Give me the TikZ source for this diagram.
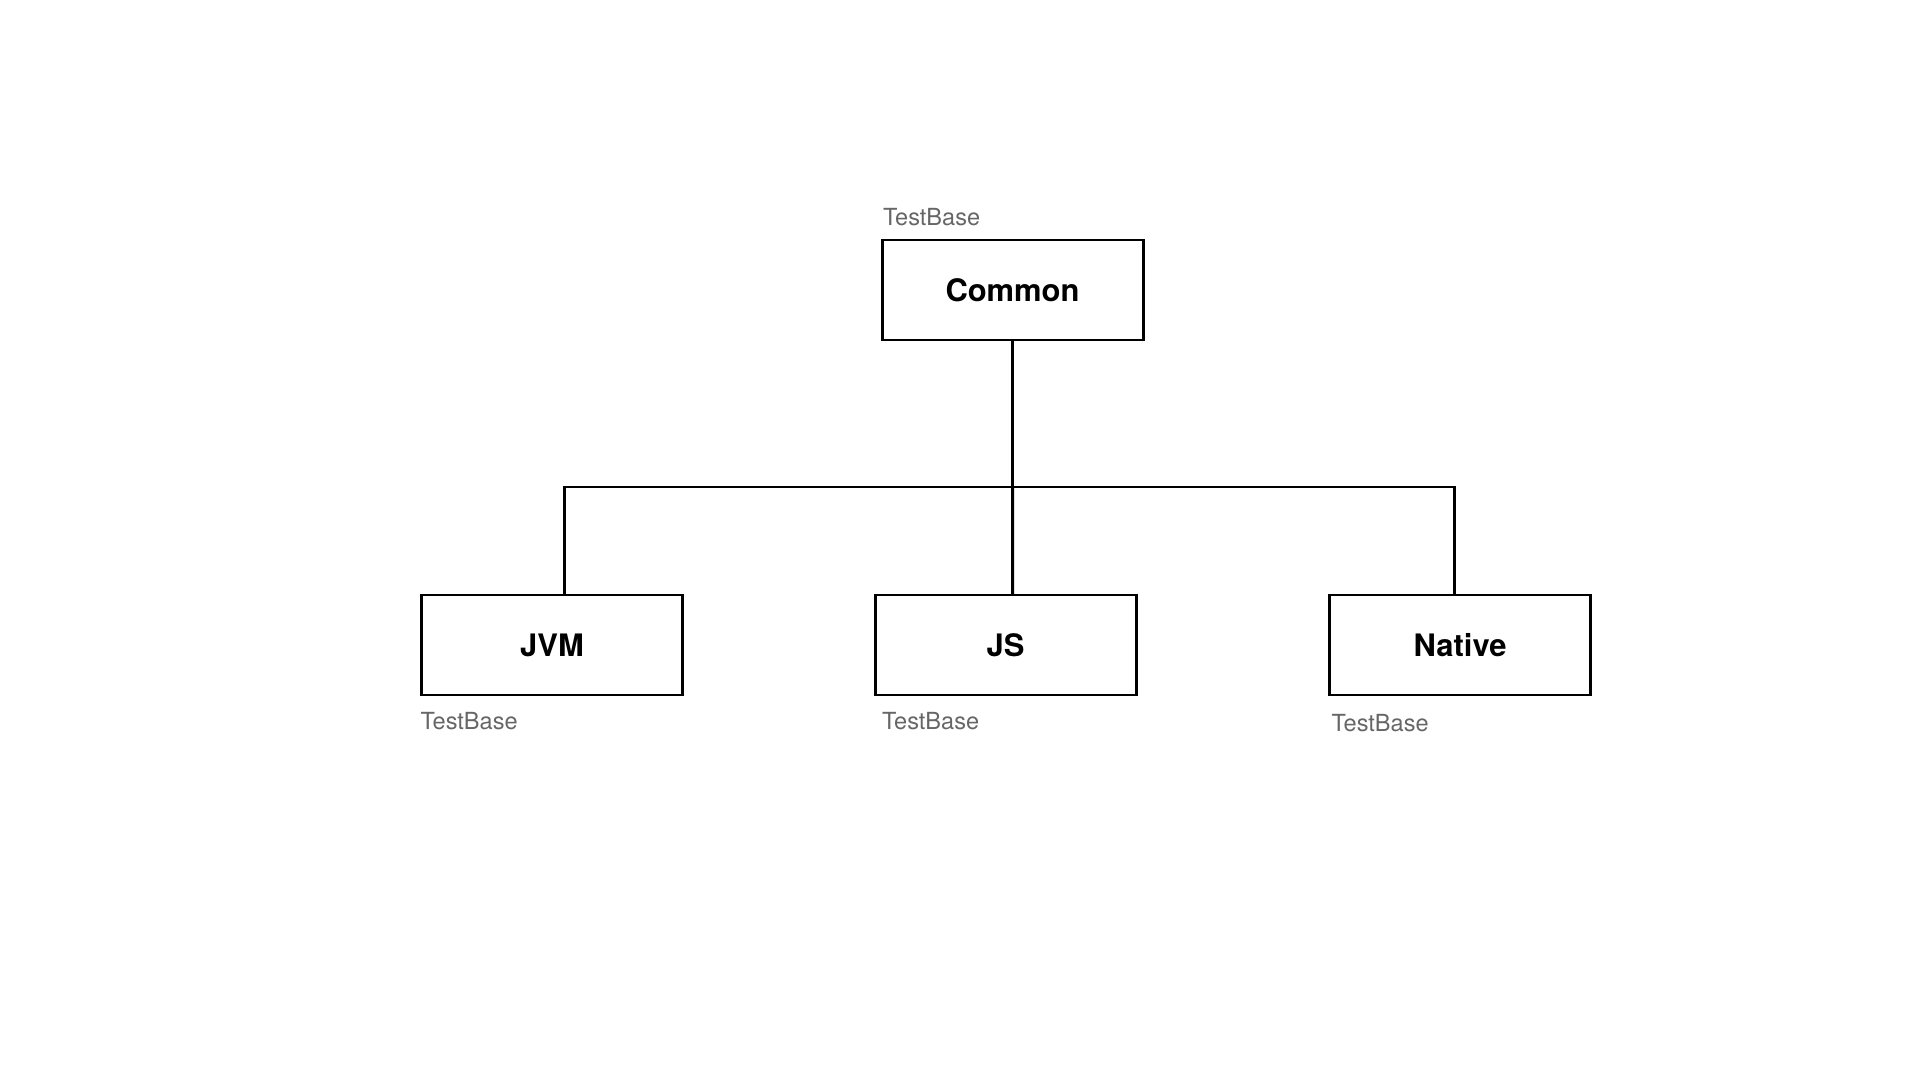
\documentclass[tikz,border=0pt]{standalone}
\usepackage{fontspec}
\setmainfont{TeX Gyre Heros}
\usepackage{tikz}
\usetikzlibrary{positioning}

\begin{document}
\begin{tikzpicture}[
    every node/.style={inner sep=0pt, outer sep=0pt},
    module/.style={draw, line width=0.85pt, minimum width=2.61cm, minimum height=1cm,
      font=\fontsize{8.8pt}{10pt}\selectfont\bfseries},
    base/.style={text=black!60, font=\fontsize{6.7pt}{8pt}\selectfont},
    link/.style={line width=0.85pt}]
      \useasboundingbox (0,0) rectangle (19.2,-10.8);
      \node [module] (common) at (10.125,-2.9)  {Common};
      \node [module] (jvm)    at ( 5.52, -6.45) {JVM};
      \node [module] (js)     at (10.055,-6.45) {JS};
      \node [module] (native) at (14.60, -6.45) {Native};
      \node [base, anchor=base west] (commonbase) at ([shift={(0.01,0.14)}]common.north west) {TestBase};
      \node [base, anchor=base west] (jvmbase)    at ([shift={(-0.01,-0.34)}]jvm.south west) {TestBase};
      \node [base, anchor=base west] (jsbase)     at ([shift={(0.07,-0.34)}]js.south west) {TestBase};
      \node [base, anchor=base west] (nativebase) at ([shift={(0.02,-0.36)}]native.south west) {TestBase};
      \coordinate (bus) at (10.125,-4.87);
      \draw [link] (common.south) -- (bus);
      \draw [link] ([xshift=1.2mm]jvm.north) |- (bus) -| ([xshift=-0.6mm]native.north);
      \draw [link] ([xshift=0.7mm]js.north) -- (bus);
    \end{tikzpicture}
\end{document}
